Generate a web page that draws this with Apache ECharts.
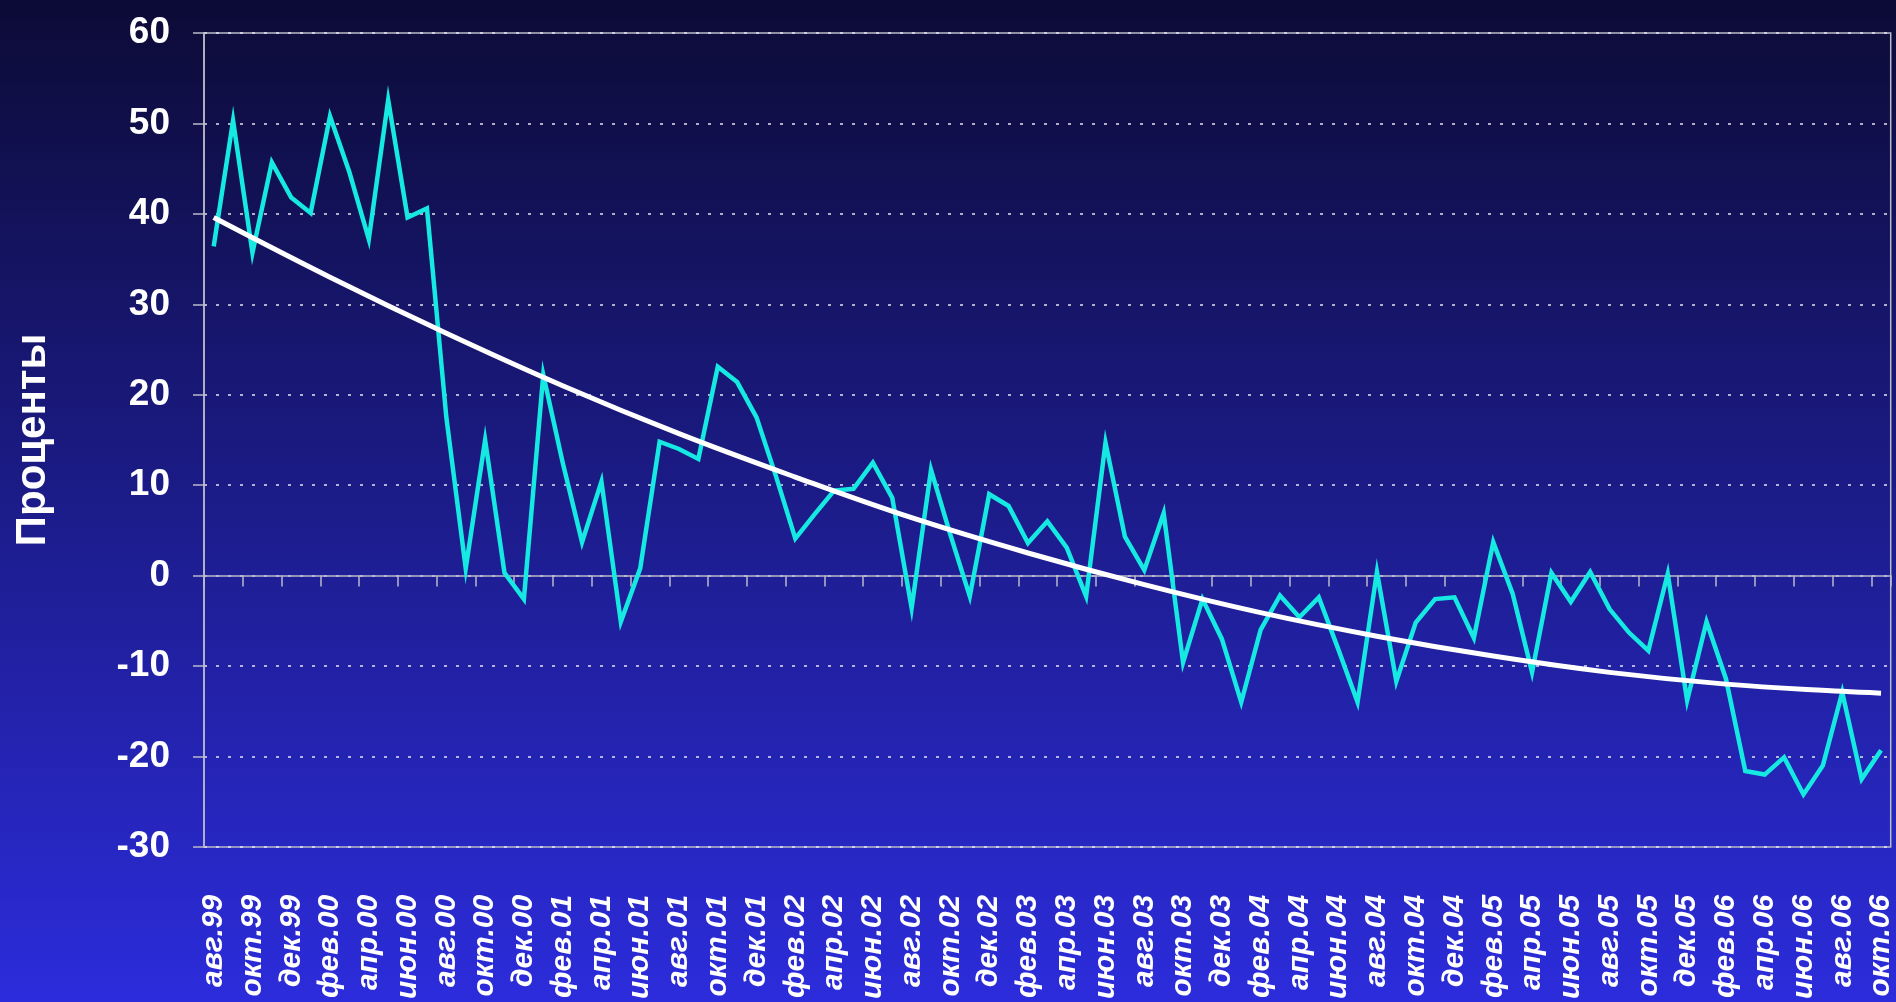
<!DOCTYPE html>
<html>
<head>
<meta charset="utf-8">
<script src="https://cdn.jsdelivr.net/npm/echarts@6/dist/echarts.min.js"></script>
<style>
html,body{margin:0;padding:0;width:1896px;height:1002px;overflow:hidden;background:#0d0c3a;}
#c{width:1896px;height:1002px;}
</style>
</head>
<body>
<div id="c"></div>
<script>
const categories = [
 'авг.99','сен.99','окт.99','ноя.99','дек.99',
 'янв.00','фев.00','мар.00','апр.00','май.00','июн.00','июл.00','авг.00','сен.00','окт.00','ноя.00','дек.00',
 'янв.01','фев.01','мар.01','апр.01','май.01','июн.01','июл.01','авг.01','сен.01','окт.01','ноя.01','дек.01',
 'янв.02','фев.02','мар.02','апр.02','май.02','июн.02','июл.02','авг.02','сен.02','окт.02','ноя.02','дек.02',
 'янв.03','фев.03','мар.03','апр.03','май.03','июн.03','июл.03','авг.03','сен.03','окт.03','ноя.03','дек.03',
 'янв.04','фев.04','мар.04','апр.04','май.04','июн.04','июл.04','авг.04','сен.04','окт.04','ноя.04','дек.04',
 'янв.05','фев.05','мар.05','апр.05','май.05','июн.05','июл.05','авг.05','сен.05','окт.05','ноя.05','дек.05',
 'янв.06','фев.06','мар.06','апр.06','май.06','июн.06','июл.06','авг.06','сен.06','окт.06'
];

const values = [
 36.4, 50.3, 35.7, 45.7, 41.8, 40.1, 50.8, 44.6, 37.2, 52.6,
 39.6, 40.6, 17.5, 0.8, 15.0, 0.3, -2.6, 22.2, 12.5, 3.7,
 10.4, -5.1, 0.8, 14.8, 14.0, 12.9, 23.1, 21.4, 17.5, 11.0,
 4.1, 6.8, 9.4, 9.6, 12.5, 8.6, -3.6, 11.7, 4.5, -2.3,
 9.0, 7.7, 3.6, 6.0, 3.1, -2.3, 14.7, 4.3, 0.6, 6.9,
 -9.6, -2.6, -7.0, -14.0, -6.0, -2.2, -4.6, -2.4, -8.1, -14.0,
 0.4, -11.7, -5.2, -2.6, -2.4, -6.9, 3.7, -2.0, -10.7, 0.3,
 -2.9, 0.4, -3.7, -6.3, -8.3, 0.2, -13.8, -5.1, -11.4, -21.6,
 -22.0, -20.1, -24.2, -21.0, -12.9, -22.5, -19.3
];

const trend = [
 [0, 39.6], [6, 33.0], [12, 26.8], [18, 21.0], [24, 15.7], [30, 10.9],
 [36, 6.4], [42, 2.5], [48, -1.0], [54, -4.1], [60, -6.7], [66, -8.9],
 [72, -10.7], [78, -12.0], [84, -12.8], [86, -13.0]
];

const yTicks = { min: -30, max: 60, interval: 10 };
const yTitle = 'Проценты';

const chart = echarts.init(document.getElementById('c'), null, { renderer: 'canvas' });
const FONT = '"Liberation Sans", Arial, sans-serif';
const axisGray = '#b9b9c9';

chart.setOption({
  animation: false,
  backgroundColor: {
    type: 'linear', x: 0, y: 0, x2: 0, y2: 1,
    colorStops: [
      { offset: 0, color: '#0c0b36' },
      { offset: 1, color: '#2c2cdc' }
    ]
  },
  grid: {
    left: 204, right: 3, top: 33, bottom: 155,
    show: true, borderColor: axisGray, borderWidth: 1.5,
    backgroundColor: 'transparent'
  },
  xAxis: [
    {
      type: 'category', data: categories, boundaryGap: true, position: 'bottom',
      axisLine: { show: false, onZero: false },
      axisTick: { show: false },
      splitLine: { show: false },
      axisLabel: {
        interval: 1, rotate: 90, margin: 48,
        color: '#ffffff', fontFamily: FONT, fontStyle: 'italic', fontWeight: 'bold', fontSize: 30
      }
    },
    {
      type: 'category', data: categories, boundaryGap: true, position: 'bottom',
      axisLine: { show: true, onZero: true, lineStyle: { color: axisGray, width: 1.5 } },
      axisTick: { show: true, interval: 1, length: 11, lineStyle: { color: axisGray, width: 1.5 } },
      axisLabel: { show: false },
      splitLine: { show: false }
    }
  ],
  yAxis: {
    type: 'value', min: yTicks.min, max: yTicks.max, interval: yTicks.interval,
    name: yTitle, nameLocation: 'middle', nameGap: 150,
    nameTextStyle: { color: '#ffffff', fontFamily: FONT, fontWeight: 'bold', fontSize: 42 },
    axisLine: { show: true, lineStyle: { color: axisGray, width: 1.5 } },
    axisTick: { show: true, length: 11, lineStyle: { color: axisGray, width: 1.5 } },
    axisLabel: { color: '#ffffff', fontFamily: FONT, fontWeight: 'bold', fontSize: 37, margin: 34 },
    splitLine: { show: true, lineStyle: { color: '#e4e4f0', width: 1.5, type: [3, 9] } }
  },
  series: [
    {
      name: 'values', type: 'line', data: values, xAxisIndex: 0,
      showSymbol: false, symbol: 'none',
      lineStyle: { color: '#16e8e2', width: 4.5, join: 'miter' },
      z: 2
    },
    {
      name: 'trend', type: 'line', data: trend, xAxisIndex: 0,
      showSymbol: false, symbol: 'none', smooth: 0.4,
      lineStyle: { color: '#ffffff', width: 5 },
      z: 3
    }
  ]
});
</script>
</body>
</html>
